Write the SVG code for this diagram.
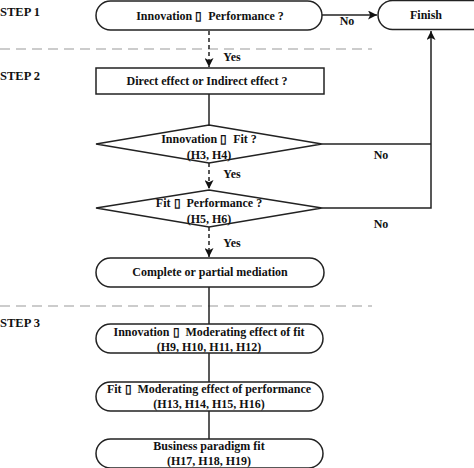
<svg xmlns="http://www.w3.org/2000/svg" width="474" height="468" viewBox="0 0 474 468">
<style>
text{font-family:"Liberation Serif","Times New Roman",serif;font-weight:bold;font-size:12px;fill:#111;text-anchor:middle;white-space:pre}
.step{text-anchor:start;font-size:12.5px}
.shape{fill:#fff;stroke:#222;stroke-width:1.5}
.ln{fill:none;stroke:#222;stroke-width:1.5}
.dash{fill:none;stroke:#222;stroke-width:1.5;stroke-dasharray:4 3}
.sep{fill:none;stroke:#9a9a9a;stroke-width:1.2;stroke-dasharray:10 6}
</style>
<defs>
<marker id="ah" viewBox="0 0 10 10" refX="10" refY="5" markerWidth="9" markerHeight="9" markerUnits="userSpaceOnUse" orient="auto">
<path d="M0,0 L10,5 L0,10 L2.5,5 Z" fill="#111"/>
</marker>
</defs>
<g id="steps">
<text class="step" x="0" y="16">STEP 1</text>
<text class="step" x="0" y="80">STEP 2</text>
<text class="step" x="0" y="327">STEP 3</text>
<line class="sep" x1="0" y1="49" x2="372" y2="49"/>
<line class="sep" x1="0" y1="306" x2="372" y2="306"/>
</g>
<g id="connectors">
<line class="ln" x1="322" y1="15" x2="377" y2="15" marker-end="url(#ah)"/>
<text x="347" y="25">No</text>
<line class="dash" x1="209" y1="31" x2="209" y2="67" marker-end="url(#ah)"/>
<text x="232" y="61">Yes</text>
<line class="ln" x1="209" y1="94" x2="209" y2="125"/>
<polyline class="ln" points="322,144 431,144"/>
<text x="381" y="159">No</text>
<polyline class="ln" points="322,208 431,208 431,31" marker-end="url(#ah)"/>
<text x="381" y="228">No</text>
<line class="dash" x1="209" y1="163" x2="209" y2="189" marker-end="url(#ah)"/>
<text x="232" y="178">Yes</text>
<line class="dash" x1="209" y1="227" x2="209" y2="257" marker-end="url(#ah)"/>
<text x="232" y="247">Yes</text>
<line class="ln" x1="209" y1="287" x2="209" y2="324"/>
<line class="ln" x1="209" y1="353" x2="209" y2="382"/>
<line class="ln" x1="209" y1="411" x2="209" y2="439"/>
</g>
<g id="q1">
<rect class="shape" x="96" y="1" width="226" height="29" rx="14.5"/>
<text x="210" y="20">Innovation ▯  Performance ?</text>
</g>
<g id="finish">
<rect class="shape" x="378" y="0.5" width="110" height="29" rx="14.5"/>
<text x="426" y="19">Finish</text>
</g>
<g id="effect">
<rect class="shape" x="96" y="68" width="228" height="26"/>
<text x="207" y="85">Direct effect or Indirect effect ?</text>
</g>
<g id="d1">
<polygon class="shape" points="209,125 322,144 209,163 96,144"/>
<text x="209" y="143">Innovation ▯  Fit ?</text>
<text x="209" y="159">(H3, H4)</text>
</g>
<g id="d2">
<polygon class="shape" points="209,190 322,208 209,227 96,208"/>
<text x="209" y="207">Fit ▯  Performance ?</text>
<text x="209" y="223">(H5, H6)</text>
</g>
<g id="mediation">
<rect class="shape" x="96" y="258" width="228" height="29" rx="14.5"/>
<text x="210" y="276">Complete or partial mediation</text>
</g>
<g id="s3a">
<rect class="shape" x="96" y="324" width="227" height="29" rx="14.5"/>
<text x="209" y="336">Innovation ▯  Moderating effect of fit</text>
<text x="209" y="351">(H9, H10, H11, H12)</text>
</g>
<g id="s3b">
<rect class="shape" x="96" y="382" width="227" height="29" rx="14.5"/>
<text x="209" y="393">Fit ▯  Moderating effect of performance</text>
<text x="209" y="408">(H13, H14, H15, H16)</text>
</g>
<g id="s3c">
<rect class="shape" x="96" y="439" width="227" height="29" rx="14.5"/>
<text x="209" y="450">Business paradigm fit</text>
<text x="209" y="465">(H17, H18, H19)</text>
</g>
</svg>
